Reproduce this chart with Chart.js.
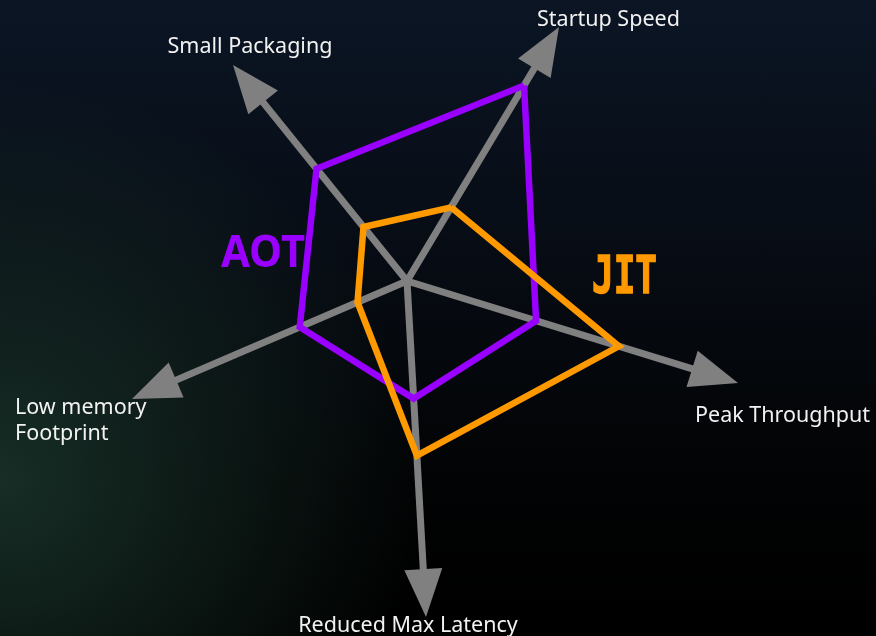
<!DOCTYPE html>
<html>
<head>
<meta charset="utf-8">
<script src="https://cdn.jsdelivr.net/npm/chart.js@4"></script>
<style>
  html, body { margin: 0; padding: 0; }
  body {
    width: 876px; height: 636px; overflow: hidden;
    background:
      radial-gradient(ellipse 420px 400px at 0px 480px, rgba(24, 48, 40, 0.95), rgba(24, 48, 40, 0) 100%),
      linear-gradient(180deg, #0b1524 0%, #070c14 40%, #020304 75%, #000 100%);
  }
  #radar { display: block; }
</style>
</head>
<body>
<canvas id="radar" width="876" height="636"></canvas>
<script>
// axis names, clockwise from top right
var categories = ['Startup Speed', 'Peak Throughput', 'Reduced Max Latency', 'Low memory\nFootprint', 'Small Packaging'];
// scores 0..10 (10 = arrow tip)
var aotValues = [7.7, 3.9, 3.5, 3.9, 5.2];
var jitValues = [2.9, 6.4, 5.2, 1.8, 2.5];
var valueMax = 10;

// skewed axes: centre and arrow tips in canvas units
var centre = { x: 407, y: 281 };
var axisTips = [
  { x: 559, y: 27 },
  { x: 738, y: 383 },
  { x: 426, y: 617 },
  { x: 132, y: 399 },
  { x: 233, y: 65 }
];
var labelSpots = [
  { x: 537, y: 20, align: 'left' },
  { x: 695, y: 416, align: 'left' },
  { x: 408, y: 626, align: 'center' },
  { x: 15, y: 408, align: 'left' },
  { x: 250, y: 47, align: 'center' }
];

var arrowLen = 48, arrowHalf = 19;

function unitDir(i) {
  var dx = axisTips[i].x - centre.x, dy = axisTips[i].y - centre.y;
  var len = Math.sqrt(dx * dx + dy * dy);
  return { x: dx / len, y: dy / len };
}

function project(values) {
  var pts = values.map(function (v, i) {
    return {
      x: centre.x + (axisTips[i].x - centre.x) * v / valueMax,
      y: centre.y + (axisTips[i].y - centre.y) * v / valueMax
    };
  });
  pts.push(pts[0]);
  return pts;
}

var axisSets = axisTips.map(function (tip, i) {
  var u = unitDir(i);
  return {
    data: [centre, { x: tip.x - u.x * (arrowLen - 2), y: tip.y - u.y * (arrowLen - 2) }],
    showLine: true,
    borderColor: '#808080',
    borderWidth: 7,
    pointRadius: 0,
    borderCapStyle: 'butt',
    order: 3
  };
});

function polySet(label, values, color, order) {
  return {
    label: label,
    data: project(values),
    showLine: true,
    borderColor: color,
    borderWidth: 6.5,
    borderJoinStyle: 'miter',
    pointRadius: 0,
    tension: 0,
    fill: false,
    order: order
  };
}

var arrowsAndText = {
  id: 'arrowsAndText',
  afterDatasetsDraw: function (chart) {
    var ctx = chart.ctx;
    ctx.save();
    axisTips.forEach(function (tip, i) {
      var u = unitDir(i);
      var bx = tip.x - u.x * arrowLen, by = tip.y - u.y * arrowLen;
      ctx.beginPath();
      ctx.moveTo(tip.x, tip.y);
      ctx.lineTo(bx - u.y * arrowHalf, by + u.x * arrowHalf);
      ctx.lineTo(bx + u.y * arrowHalf, by - u.x * arrowHalf);
      ctx.closePath();
      ctx.fillStyle = '#808080';
      ctx.fill();
    });
    ctx.fillStyle = '#f2f2f2';
    ctx.font = '21.5px "Noto Sans", "Open Sans", sans-serif';
    ctx.textBaseline = 'middle';
    categories.forEach(function (name, i) {
      var s = labelSpots[i];
      ctx.textAlign = s.align;
      name.split('\n').forEach(function (line, k) {
        ctx.fillText(line, s.x, s.y + k * 26);
      });
    });
    ctx.textAlign = 'left';
    ctx.textBaseline = 'alphabetic';
    ctx.fillStyle = '#9900ff';
    ctx.font = 'bold 44px "Noto Sans", "Open Sans", sans-serif';
    ctx.fillText('AOT', 221, 267, 84);
    ctx.fillStyle = '#ff9900';
    ctx.strokeStyle = '#ff9900';
    ctx.lineWidth = 1.5;
    ctx.font = 'bold 51px "DejaVu Sans Mono", monospace';
    ctx.fillText('JIT', 592, 293, 65);
    ctx.strokeText('JIT', 592, 293, 65);
    ctx.restore();
  }
};

new Chart(document.getElementById('radar'), {
  type: 'scatter',
  data: {
    datasets: axisSets.concat([
      polySet('AOT', aotValues, '#9900ff', 2),
      polySet('JIT', jitValues, '#ff9900', 1)
    ])
  },
  options: {
    responsive: false,
    animation: false,
    layout: { padding: 0 },
    scales: {
      x: { type: 'linear', min: 0, max: 876, display: false },
      y: { type: 'linear', min: 0, max: 636, reverse: true, display: false }
    },
    plugins: {
      legend: { display: false },
      tooltip: { enabled: false }
    }
  },
  plugins: [arrowsAndText]
});
</script>
</body>
</html>
